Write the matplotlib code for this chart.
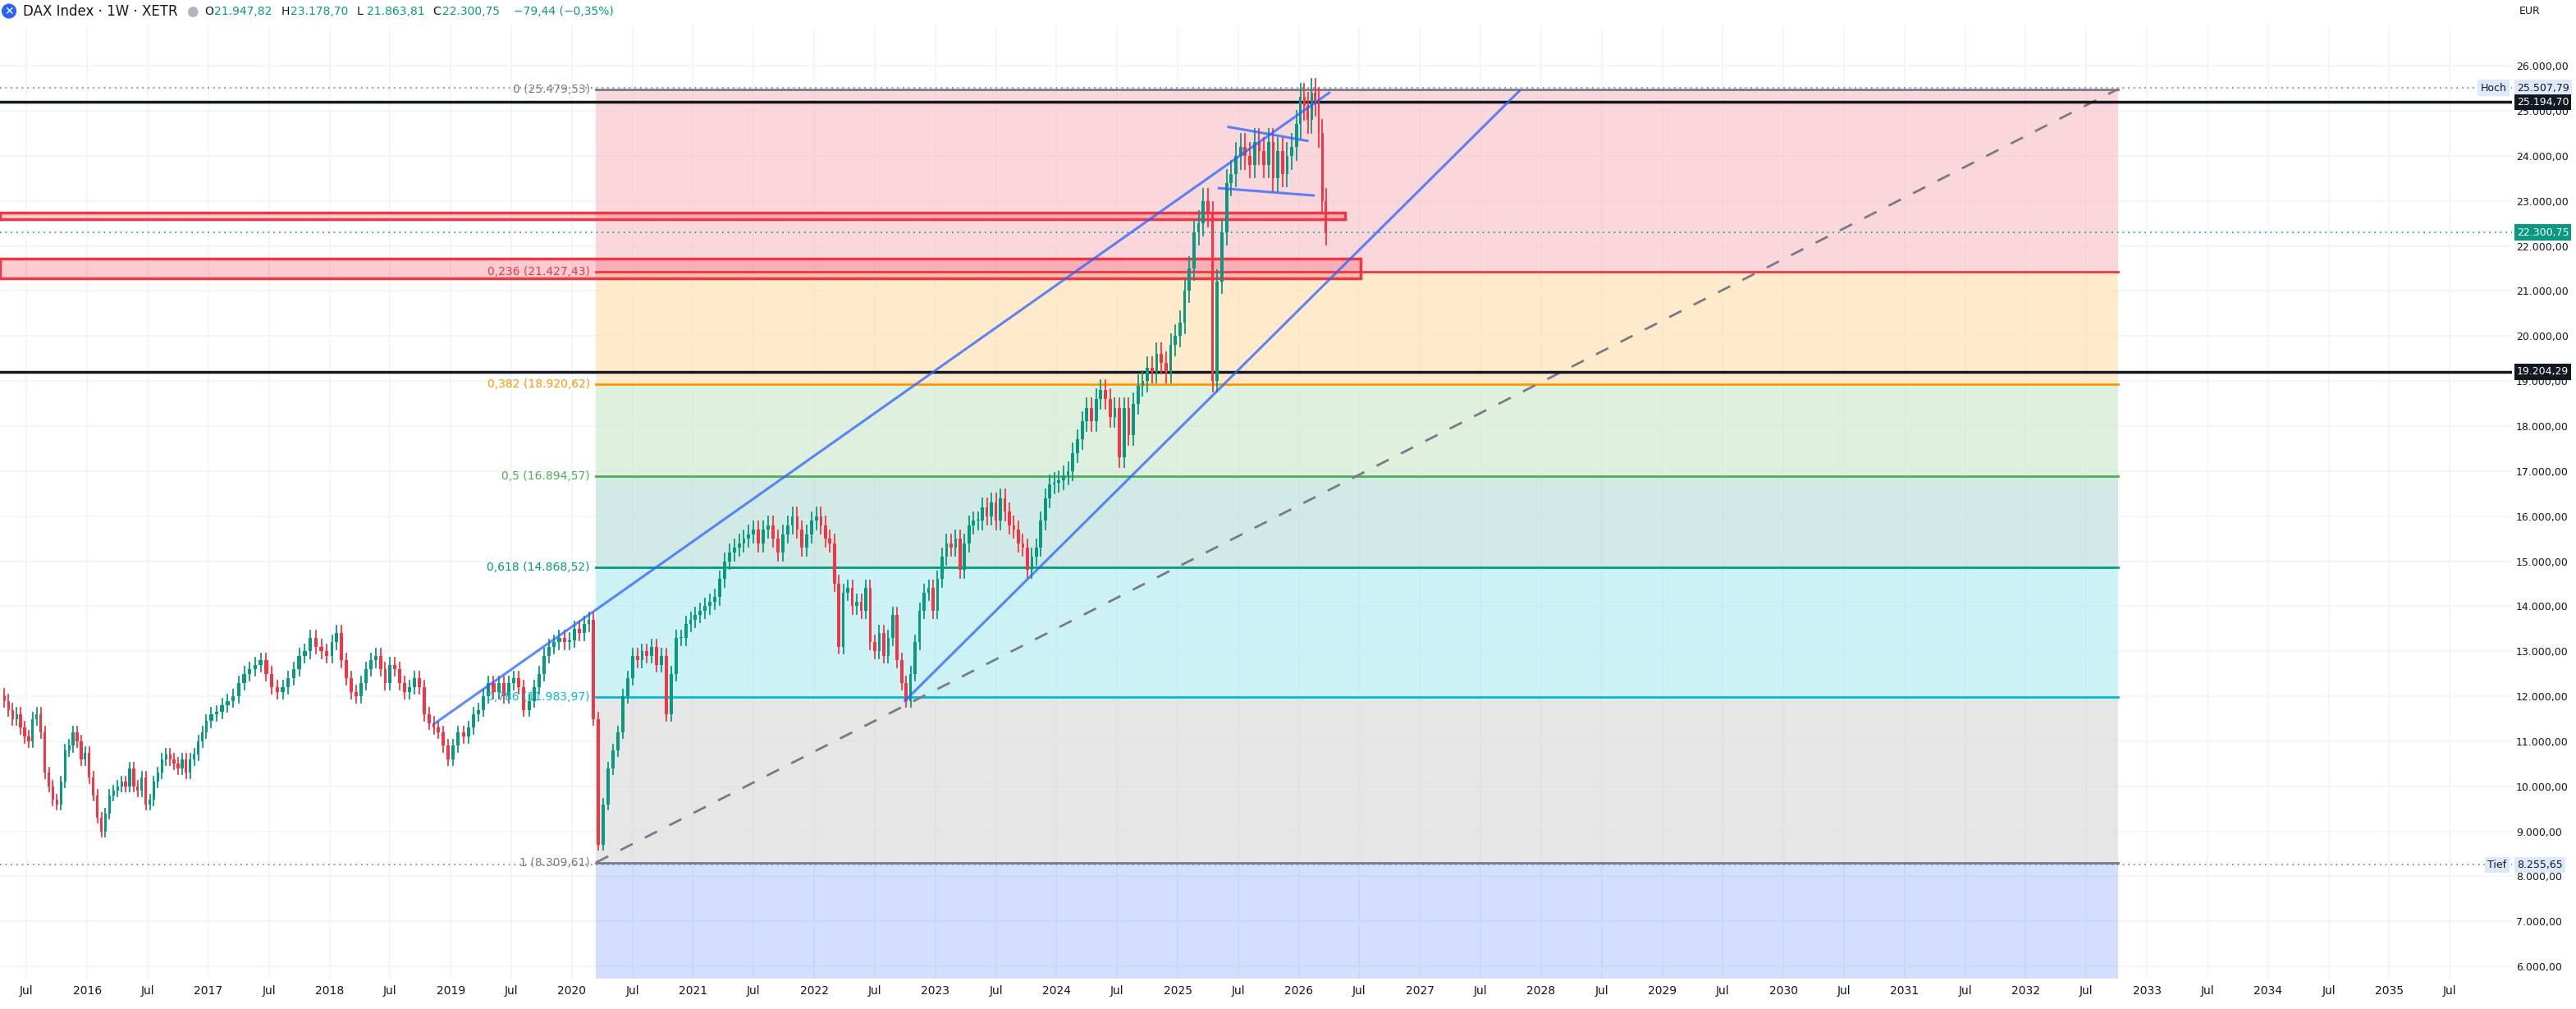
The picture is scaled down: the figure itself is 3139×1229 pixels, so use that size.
import matplotlib
matplotlib.use("Agg")
import matplotlib.pyplot as plt
from matplotlib.patches import Rectangle

# closes per year (roughly 2-week candles)
closes = {
    2015: [11900, 11700, 11500, 11600, 11300, 11100, 11000, 11500, 11600, 11200, 10300,
           10000, 9700, 9600, 10100, 10800, 10900, 11200, 11000, 10600, 10750],
    2016: [10200, 9800, 9300, 9000, 9400, 9800, 9900, 10000, 10100, 10000, 10400, 10000, 9900,
           10200, 9600, 9700, 10100, 10300, 10600, 10700, 10600, 10500, 10400, 10600, 10300,
           10600, 10700, 11000, 11200, 11450],
    2017: [11600, 11650, 11800, 11900, 12000, 12300, 12500, 12600, 12700, 12800, 12500, 12200,
           12100, 12200, 12400, 12600, 12900, 13000, 13300, 13100, 13000, 12900],
    2018: [13200, 13400, 12800, 12400, 12100, 12000, 12300, 12600, 12800, 12900, 12600, 12300,
           12700, 12600, 12300, 12100, 12200, 12400, 12200, 11600, 11400, 11300, 11200, 10900, 10600],
    2019: [10900, 11200, 11100, 11300, 11600, 11700, 12000, 12300, 12100, 12300, 12000, 12300,
           12400, 12200, 11700, 11900, 12200, 12500, 12900, 13100, 13200, 13300, 13200, 13250],
    2020: [13500, 13400, 13600, 13700, 11500, 8700, 9600, 10400, 10800, 11200, 12000, 12400,
           12900, 12800, 13000, 12900, 13100, 12700, 12900, 11600, 12500, 13300, 13300, 13600, 13700],
    2021: [13800, 13900, 14000, 14100, 14200, 14600, 15000, 15200, 15300, 15400, 15500, 15600,
           15700, 15400, 15700, 15800, 15500, 15200, 15600, 15800, 16000, 15700, 15300, 15600, 15900],
    2022: [16000, 15800, 15500, 15400, 14500, 13100, 14300, 14400, 14000, 14100, 13900, 14400,
           13200, 13000, 13400, 12900, 13300, 13800, 12800, 12300, 11900, 12500, 13200, 13900,
           14300, 14400, 13900],
    2023: [14600, 15100, 15400, 15300, 15500, 14800, 15400, 15800, 15900, 15900, 16200, 16000,
           16300, 15900, 16400, 16100, 15800, 15700, 15400, 15300, 14800, 15100, 15300, 15900,
           16400, 16700, 16750],
    2024: [16800, 16900, 17000, 17400, 17700, 18100, 18400, 18100, 18600, 18800, 18600, 18200,
           18400, 17300, 18400, 17800, 18500, 18900, 19000, 19300, 19200, 19600, 19400, 19200,
           19800, 20000],
    2025: [20300, 21000, 21500, 22300, 22500, 23000, 22700, 19000, 21200, 22300, 23400, 23600,
           24000, 24200, 24000, 23800, 24300, 24100, 23800, 24300, 23500, 24100, 23600, 24000,
           24200, 24700],
    2026: [25300, 25100, 24800, 25400, 25200, 24500, 23000, 22300],
}
year_start = {2015: 2015.30}
year_end = {2026: 2026.24}

fib_ratios = ["0", "0,236", "0,382", "0,5", "0,618", "0,786", "1"]
fib_prices = [25479.53, 21427.43, 18920.62, 16894.57, 14868.52, 11983.97, 8309.61]
fib_line_colors = ["#787b86", "#f23645", "#ff9800", "#4caf50", "#089981", "#00bcd4", "#787b86"]
fib_fill_colors = ["#f7c2c7", "#ffe0b0", "#cfe8cf", "#b9e0d9", "#b2ebf2", "#d9d9d9"]
fib_x0, fib_x1 = 2020.20, 2032.76

black_levels = [25194.70, 19204.29]
last_price = 22300.75
high_price, low_price = 25507.79, 8255.65

red_boxes = [(2015.28, 2026.38, 22594, 22739), (2015.28, 2026.51, 21272, 21725)]
blue_lines = [((2018.87, 11400), (2026.25, 25400)),
              ((2022.75, 11900), (2027.82, 25440)),
              ((2025.42, 24641), (2026.07, 24333)),
              ((2025.34, 23283), (2026.12, 23120))]

UP, DOWN = "#089981", "#f23645"


def fmt(v):
    return f"{v:,.2f}".replace(",", "X").replace(".", ",").replace("X", ".")


fig = plt.figure(figsize=(31.39, 12.29), dpi=100)
ax = fig.add_axes([0, 0.030, 0.975, 0.945])
xmin, xmax, ymin, ymax = 2015.28, 2036.01, 5728, 26900
ax.set_xlim(xmin, xmax)
ax.set_ylim(ymin, ymax)

# grid
for y in range(6000, 27000, 1000):
    ax.axhline(y, color="#f0f3fa", lw=1.2, zorder=0)
xticks, xlabels = [], []
for yr in range(2015, 2036):
    if yr >= 2016:
        xticks.append(yr); xlabels.append(str(yr))
    xticks.append(yr + 0.5); xlabels.append("Jul")
for x in xticks:
    ax.axvline(x, color="#f0f3fa", lw=1.2, zorder=0)

# fib zones
for i in range(6):
    ax.add_patch(Rectangle((fib_x0, fib_prices[i + 1]), fib_x1 - fib_x0,
                           fib_prices[i] - fib_prices[i + 1], color=fib_fill_colors[i],
                           alpha=0.65, lw=0, zorder=1))
ax.add_patch(Rectangle((fib_x0, ymin), fib_x1 - fib_x0, fib_prices[-1] - ymin,
                       color="#2962ff", alpha=0.2, lw=0, zorder=1))
for r, p, c in zip(fib_ratios, fib_prices, fib_line_colors):
    ax.plot([fib_x0, fib_x1], [p, p], color=c, lw=2, zorder=2)
    ax.text(fib_x0 - 0.05, p, f"{r} ({fmt(p)})", color=c, fontsize=10, ha="right",
            va="center", zorder=6)
ax.plot([fib_x0, fib_x1], [fib_prices[-1], fib_prices[0]], color="#787b86", lw=2,
        ls=(0, (6, 6)), zorder=3)

for x0, x1, y0, y1 in red_boxes:
    ax.add_patch(Rectangle((x0, y0), x1 - x0, y1 - y0, facecolor="#f23645", alpha=0.25, lw=0, zorder=3))
    ax.add_patch(Rectangle((x0, y0), x1 - x0, y1 - y0, fill=False, edgecolor="#f23645", lw=2.5, zorder=3))

for lv in black_levels:
    ax.axhline(lv, color="#131722", lw=2.5, zorder=4)
ax.axhline(last_price, color=UP, lw=1.2, ls=(0, (1, 3)), zorder=4)
ax.axhline(high_price, color="#787b86", lw=1.2, ls=(0, (1, 3)), zorder=4)
ax.axhline(low_price, color="#787b86", lw=1.2, ls=(0, (1, 3)), zorder=4)

# candles
prev = None
for yr, vals in closes.items():
    a = year_start.get(yr, float(yr))
    b = year_end.get(yr, yr + 1.0)
    step = (b - a) / len(vals)
    for k, c in enumerate(vals):
        o = prev if prev is not None else c * 1.01
        x = a + (k + 0.5) * step
        col = UP if c >= o else DOWN
        hi = max(o, c) * 1.012
        lo = min(o, c) * 0.988
        ax.plot([x, x], [lo, hi], color=col, lw=1.3, zorder=5)
        ax.add_patch(Rectangle((x - step * 0.33, min(o, c)), step * 0.66, max(abs(c - o), 15),
                               color=col, lw=0, zorder=5))
        prev = c

for (x0, y0), (x1, y1) in blue_lines:
    ax.plot([x0, x1], [y0, y1], color="#2962ff", lw=2.2, alpha=0.75, zorder=6)

ax.set_xticks(xticks)
ax.set_xticklabels(xlabels, fontsize=10, color="#131722")
ax.tick_params(axis="x", length=0, pad=6)
ax.set_yticks([])
for s in ax.spines.values():
    s.set_visible(False)

# price scale
ax2 = ax.twinx()
ax2.set_ylim(ymin, ymax)
ax2.set_yticks(range(6000, 27000, 1000))
ax2.set_yticklabels([fmt(v) for v in range(6000, 27000, 1000)], fontsize=9, color="#131722")
ax2.tick_params(axis="y", length=0, pad=4)
for s in ax2.spines.values():
    s.set_visible(False)
bbox = dict(boxstyle="square,pad=0.25", lw=0)
for v, fc, tc in [(high_price, "#dde8fb", "#131722"), (black_levels[0], "#131722", "white"),
                  (last_price, UP, "white"), (black_levels[1], "#131722", "white"),
                  (low_price, "#dde8fb", "#131722")]:
    ax2.text(1.002, v, fmt(v), transform=ax2.get_yaxis_transform(), fontsize=9, color=tc,
             va="center", ha="left", bbox=dict(bbox, fc=fc), zorder=10)
for v, t in [(high_price, "Hoch"), (low_price, "Tief")]:
    ax2.text(0.998, v, t, transform=ax2.get_yaxis_transform(), fontsize=9, color="#131722",
             va="center", ha="right", bbox=dict(bbox, fc="#dde8fb"), zorder=10)

fig.text(0.0035, 0.989, "✕", fontsize=10, color="white", va="center", ha="center",
         bbox=dict(boxstyle="circle,pad=0.15", fc="#2962ff", lw=0))
fig.text(0.009, 0.989, "DAX Index · 1W · XETR", fontsize=12, color="#131722", va="center")
fig.text(0.0745, 0.989, "●", fontsize=12, color="#b2b5be", va="center", ha="center")
hdr = [("O", "21.947,82"), ("H", "23.178,70"), ("L", "21.863,81"), ("C", "22.300,75")]
x = 0.0795
for k, v in hdr:
    fig.text(x, 0.989, k, fontsize=10, color="#131722", va="center")
    fig.text(x + 0.0038, 0.989, v, fontsize=10, color=UP, va="center")
    x += 0.0295
fig.text(x + 0.002, 0.989, "−79,44 (−0,35%)", fontsize=10, color=UP, va="center")
fig.text(0.978, 0.989, "EUR", fontsize=9, color="#131722", va="center")

fig.savefig("out.png", dpi=100, facecolor="white")
